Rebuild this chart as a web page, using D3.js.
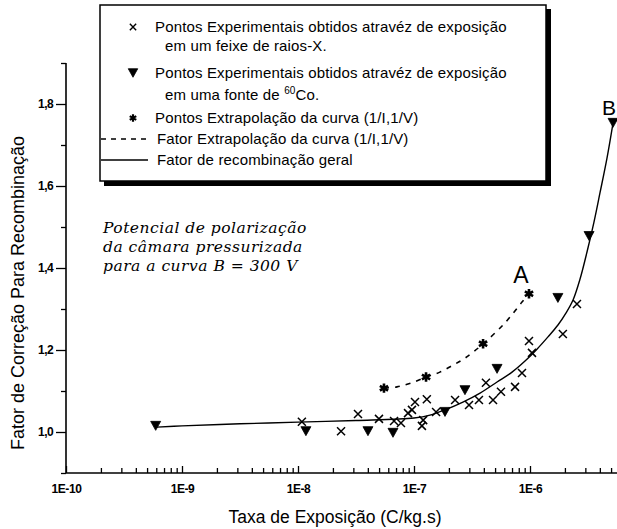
<!DOCTYPE html>
<html>
<head>
<meta charset="utf-8">
<script src="https://cdn.jsdelivr.net/npm/d3@7"></script>
<style>
  body { margin: 0; background: #fff; }
  svg { display: block; }
</style>
</head>
<body>
<script>
// X-ray beam points (x)
var xrayX = [1.08e-8, 2.35e-8, 3.29e-8, 4.99e-8, 6.73e-8, 7.72e-8, 8.88e-8, 9.6e-8, 1.02e-7, 1.17e-7,
             1.20e-7, 1.29e-7, 1.55e-7, 2.26e-7, 2.98e-7, 3.63e-7, 4.17e-7, 4.80e-7, 5.62e-7, 7.43e-7,
             8.53e-7, 9.80e-7, 1.04e-6, 1.92e-6, 2.54e-6];
var xrayY = [1.025, 1.002, 1.044, 1.032, 1.027, 1.022, 1.046, 1.054, 1.073, 1.015,
             1.029, 1.080, 1.049, 1.078, 1.066, 1.078, 1.120, 1.078, 1.098, 1.110,
             1.144, 1.222, 1.193, 1.239, 1.312];

// 60Co source points (filled triangles)
var coX = [5.93e-10, 1.17e-8, 4.01e-8, 6.59e-8, 1.85e-7, 2.75e-7, 5.20e-7, 1.74e-6, 3.23e-6, 5.20e-6];
var coY = [1.015, 1.002, 1.002, 0.998, 1.049, 1.102, 1.154, 1.327, 1.478, 1.754];

// extrapolation points (asterisks)
var extX = [5.51e-8, 1.27e-7, 3.94e-7, 9.8e-7];
var extY = [1.107, 1.134, 1.215, 1.337];

// dashed curve (A)
var dashX = [5.51e-8, 7.13e-8, 9.6e-8, 1.27e-7, 1.67e-7, 2.17e-7, 2.75e-7, 3.94e-7, 6.08e-7, 8.53e-7, 9.8e-7];
var dashY = [1.107, 1.110, 1.120, 1.134, 1.146, 1.163, 1.180, 1.215, 1.266, 1.317, 1.337];

// solid curve (B), general recombination factor
var fitX = [6.08e-10, 1e-9, 3.16e-9, 1e-8, 3.16e-8, 1e-7, 1.374e-7, 1.85e-7, 2.64e-7, 3.71e-7,
            5.20e-7, 7.00e-7, 9.06e-7, 1.148e-6, 1.429e-6, 1.742e-6, 2.04e-6, 2.35e-6, 2.70e-6, 3.10e-6,
            3.56e-6, 4.01e-6, 4.61e-6, 5.20e-6];
var fitY = [1.012, 1.015, 1.020, 1.024, 1.028, 1.034, 1.041, 1.054, 1.073, 1.095,
            1.122, 1.146, 1.173, 1.202, 1.232, 1.261, 1.290, 1.322, 1.373, 1.439,
            1.512, 1.583, 1.668, 1.754];

var xMajor = [1e-10, 1e-9, 1e-8, 1e-7, 1e-6];
var xMajorLabels = ["1E-10", "1E-9", "1E-8", "1E-7", "1E-6"];
var yMajor = [1.0, 1.2, 1.4, 1.6, 1.8];
var yMinor = [0.9, 1.1, 1.3, 1.5, 1.7, 1.9];

var legendLabels = [
  "Pontos Experimentais obtidos atravéz de exposição",
  "em um feixe de raios-X.",
  "Pontos Experimentais obtidos atravéz de exposição",
  "em uma fonte de ",
  "Pontos Extrapolação da curva (1/I,1/V)",
  "Fator Extrapolação da curva (1/I,1/V)",
  "Fator de recombinação geral"
];
var noteLines = ["Potencial de polarização", "da câmara pressurizada", "para a curva B = 300  V"];

var W = 617, H = 529;
var sans = "'Liberation Sans', Arial, sans-serif";

var svg = d3.select("body").append("svg")
  .attr("width", W)
  .attr("height", H);

var x = d3.scaleLog().domain([1e-10, 1e-5]).range([66, 646]);
var y = d3.scaleLinear().domain([0.9, 1.9]).range([473, 63]);

// minor x ticks 2..9 in each decade
var xMinor = [];
xMajor.forEach(function(d) {
  for (var k = 2; k <= 9; k++) xMinor.push(d * k);
});

// --- axes
var gx = svg.append("g").attr("transform", "translate(0," + y(0.9) + ")");
gx.append("g")
  .call(d3.axisBottom(x).tickValues(xMinor).tickSize(-5).tickFormat(""))
  .call(function(g) { g.select(".domain").remove(); });
gx.append("g")
  .call(d3.axisBottom(x).tickValues(xMajor).tickSize(-7).tickPadding(11)
        .tickFormat(function(d, i) { return xMajorLabels[i]; }))
  .call(function(g) { g.select(".domain").remove(); })
  .selectAll("text")
    .style("font-family", sans)
    .style("font-size", "12px")
    .style("font-weight", "bold")
    .style("letter-spacing", "-0.4px");
gx.selectAll("line").attr("stroke-width", 1.3);
gx.append("line")
  .attr("x1", 66).attr("x2", W)
  .attr("stroke", "#000").attr("stroke-width", 1.6);

var gy = svg.append("g").attr("transform", "translate(66,0)");
gy.append("g")
  .call(d3.axisLeft(y).tickValues(yMinor).tickSize(5).tickFormat(""))
  .call(function(g) { g.select(".domain").remove(); });
gy.append("g")
  .call(d3.axisLeft(y).tickValues(yMajor).tickSize(10).tickPadding(3)
        .tickFormat(function(d) { return d3.format(".1f")(d).replace(".", ","); }))
  .call(function(g) { g.select(".domain").remove(); })
  .selectAll("text")
    .style("font-family", sans)
    .style("font-size", "12px")
    .style("font-weight", "bold")
    .style("letter-spacing", "-0.6px");
gy.selectAll("line").attr("stroke-width", 1.3);
gy.append("line")
  .attr("y1", y(1.9)).attr("y2", y(0.9))
  .attr("stroke", "#000").attr("stroke-width", 1.6);

// axis titles
svg.append("text")
  .attr("x", 335).attr("y", 523)
  .attr("text-anchor", "middle")
  .style("font-family", sans).style("font-size", "17.5px")
  .text("Taxa de Exposição (C/kg.s)");

svg.append("text")
  .attr("transform", "translate(24,293) rotate(-90)")
  .attr("text-anchor", "middle")
  .style("font-family", sans).style("font-size", "18px")
  .text("Fator de Correção Para Recombinação");

// --- curves
var line = d3.line()
  .x(function(d) { return x(d[0]); })
  .y(function(d) { return y(d[1]); })
  .curve(d3.curveCatmullRom.alpha(0.5));

svg.append("path")
  .datum(d3.zip(fitX, fitY))
  .attr("d", line)
  .attr("fill", "none").attr("stroke", "#000").attr("stroke-width", 1.4);

svg.append("path")
  .datum(d3.zip(dashX, dashY))
  .attr("d", line)
  .attr("fill", "none").attr("stroke", "#000").attr("stroke-width", 1.6)
  .attr("stroke-dasharray", "5,6");

// --- markers
var symX = { draw: function(c, s) {
  var r = Math.sqrt(s) / 2;
  c.moveTo(-r, -r); c.lineTo(r, r);
  c.moveTo(r, -r); c.lineTo(-r, r);
} };
var symTri = { draw: function(c, s) {
  var w = Math.sqrt(s);
  c.moveTo(-w / 2, -w * 0.45); c.lineTo(w / 2, -w * 0.45); c.lineTo(0, w * 0.45); c.closePath();
} };
var symStar = { draw: function(c, s) {
  var r = Math.sqrt(s) / 2;
  c.moveTo(0, -r); c.lineTo(0, r);
  c.moveTo(-r * 0.87, -r * 0.5); c.lineTo(r * 0.87, r * 0.5);
  c.moveTo(r * 0.87, -r * 0.5); c.lineTo(-r * 0.87, r * 0.5);
} };

function markers(xs, ys, type, size, filled, sw) {
  svg.append("g").selectAll("path")
    .data(d3.zip(xs, ys))
    .enter().append("path")
      .attr("transform", function(d) { return "translate(" + x(d[0]) + "," + y(d[1]) + ")"; })
      .attr("d", d3.symbol(type, size))
      .attr("fill", filled ? "#000" : "none")
      .attr("stroke", "#000")
      .attr("stroke-width", sw);
}
markers(xrayX, xrayY, symX, 64, false, 1.5);
markers(coX, coY, symTri, 100, true, 0.8);
markers(extX, extY, symStar, 90, false, 2.6);

// curve labels
svg.append("text").attr("x", 521).attr("y", 283).attr("text-anchor", "middle")
  .style("font-family", sans).style("font-size", "23px").text("A");
svg.append("text").attr("x", 602).attr("y", 115)
  .style("font-family", sans).style("font-size", "21px").text("B");

// annotation
svg.append("g").selectAll("text")
  .data(noteLines)
  .enter().append("text")
    .attr("x", 103)
    .attr("y", function(d, i) { return 233 + i * 19; })
    .style("font-family", "'DejaVu Serif', serif")
    .style("font-style", "italic")
    .style("font-size", "15.5px")
    .style("letter-spacing", "0.5px")
    .text(function(d) { return d; });

// --- legend
var lg = svg.append("g");
lg.append("rect")
  .attr("x", 104).attr("y", 9).attr("width", 447).attr("height", 177)
  .attr("fill", "#000");
lg.append("rect")
  .attr("x", 100).attr("y", 5).attr("width", 446).attr("height", 176)
  .attr("fill", "#fff").attr("stroke", "#000").attr("stroke-width", 1.5);

var rowY = [27, 46, 73, 95, 118, 139, 160];
var rowX = [155, 165, 155, 165, 155, 157, 157];
lg.selectAll("text.lab")
  .data(legendLabels)
  .enter().append("text")
    .attr("class", "lab")
    .attr("x", function(d, i) { return rowX[i]; })
    .attr("y", function(d, i) { return rowY[i] + 5; })
    .style("font-family", sans)
    .style("font-size", "15px")
    .style("letter-spacing", "0.15px")
    .text(function(d) { return d; });

// superscript for 60Co
var coLine = lg.selectAll("text.lab").filter(function(d, i) { return i === 3; });
coLine.append("tspan").attr("dy", -6).style("font-size", "10px").text("60");
coLine.append("tspan").attr("dy", 6).text("Co.");

lg.append("path").attr("transform", "translate(133," + rowY[0] + ")")
  .attr("d", d3.symbol(symX, 40)).attr("fill", "none").attr("stroke", "#000").attr("stroke-width", 1.4);
lg.append("path").attr("transform", "translate(133," + rowY[2] + ")")
  .attr("d", d3.symbol(symTri, 90)).attr("fill", "#000").attr("stroke", "#000").attr("stroke-width", 0.8);
lg.append("path").attr("transform", "translate(133," + rowY[4] + ")")
  .attr("d", d3.symbol(symStar, 56)).attr("fill", "none").attr("stroke", "#000").attr("stroke-width", 2.2);
lg.append("line").attr("x1", 101).attr("x2", 148).attr("y1", rowY[5]).attr("y2", rowY[5])
  .attr("stroke", "#000").attr("stroke-width", 1.4).attr("stroke-dasharray", "5,5");
lg.append("line").attr("x1", 101).attr("x2", 148).attr("y1", rowY[6]).attr("y2", rowY[6])
  .attr("stroke", "#000").attr("stroke-width", 1.4);
</script>
</body>
</html>
